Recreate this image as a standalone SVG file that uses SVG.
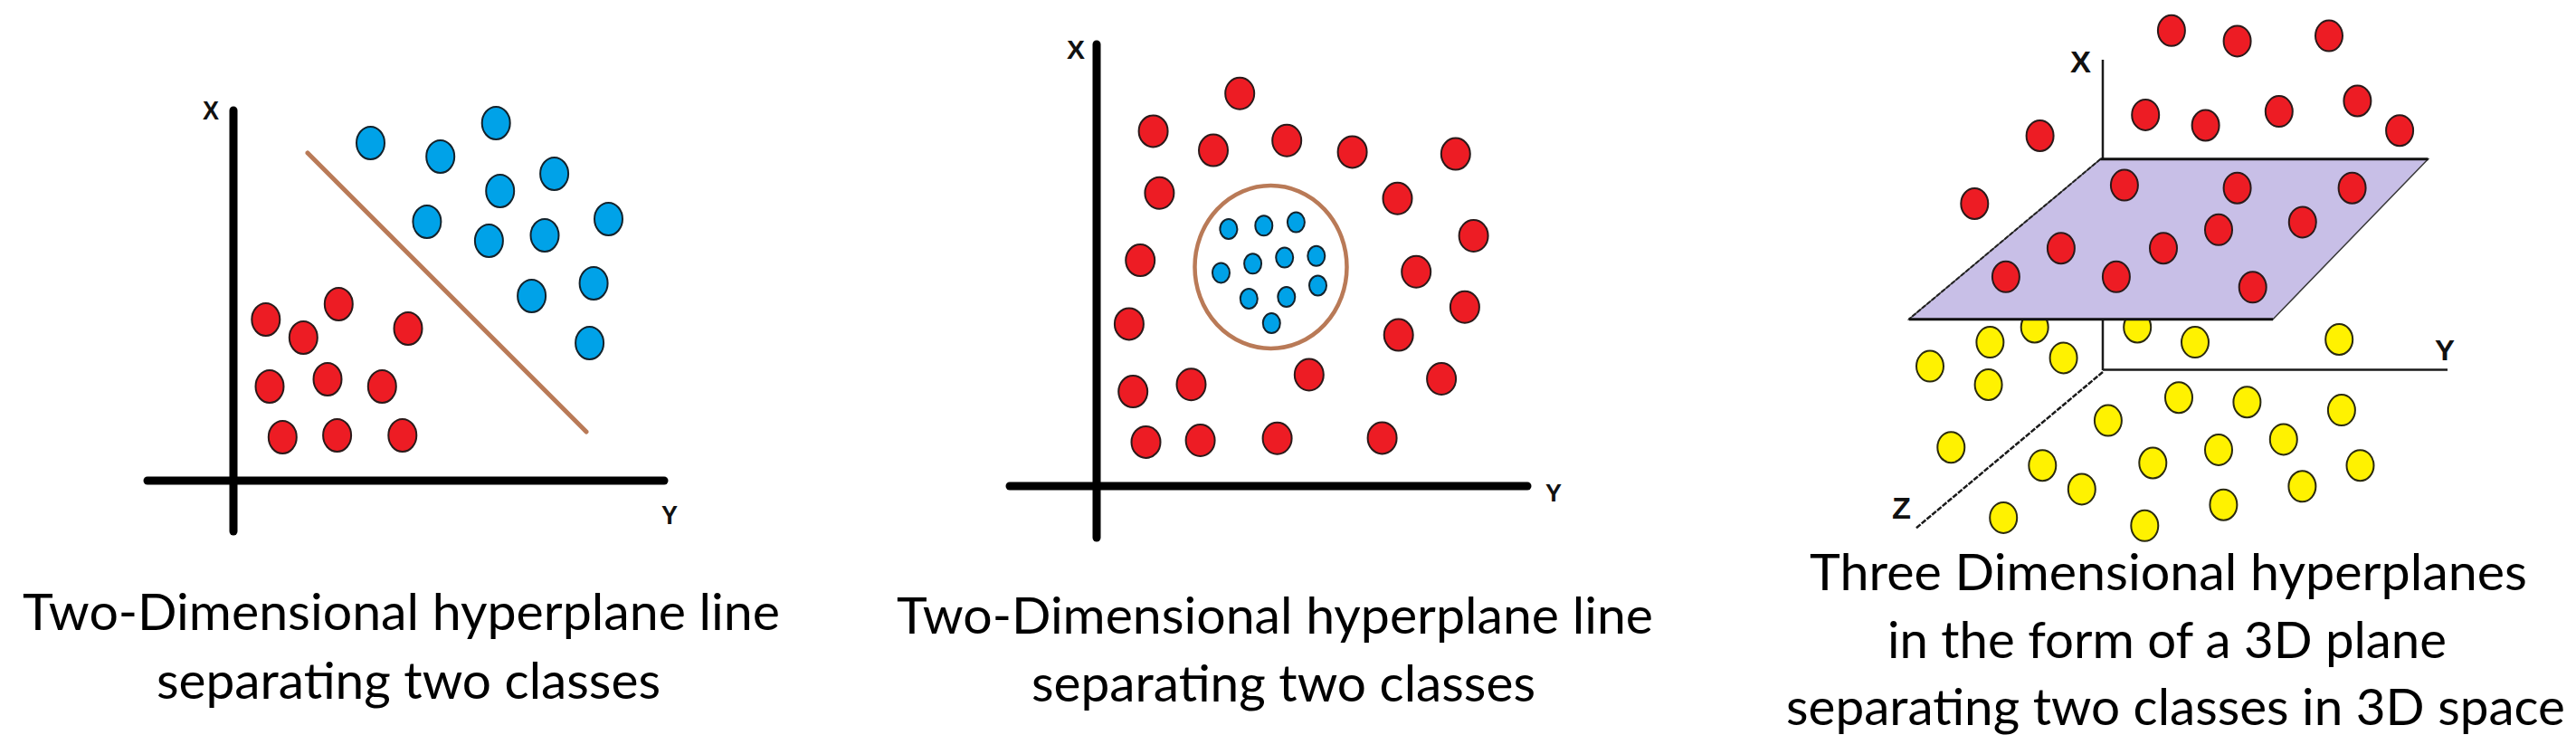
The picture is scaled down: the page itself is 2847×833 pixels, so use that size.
<svg xmlns="http://www.w3.org/2000/svg" width="2847" height="833" viewBox="0 0 2847 833">
<style>
.bg{fill:#ffffff}
.r{fill:#ed1c24;stroke:#2a1a1a;stroke-width:2}
.b{fill:#00a2e8;stroke:#13222b;stroke-width:2}
.y{fill:#fff200;stroke:#2a2a10;stroke-width:2}
.ax{stroke:#000;stroke-width:9;stroke-linecap:round;fill:none}
.ax3{stroke:#1a1a1a;stroke-width:2.5;fill:none}
.sep{stroke:#b97a57;stroke-width:5;fill:none;stroke-linecap:round}
.lab{font-family:"Liberation Sans",Arial,sans-serif;font-weight:bold;fill:#111}
.cap{font-family:Lato,"Open Sans",sans-serif;font-size:56px;fill:#000}
</style>
<rect class="bg" x="0" y="0" width="2847" height="833"/>

<g id="panel1">
  <g id="p1-axes">
    <line class="ax" x1="258" y1="122" x2="258" y2="587"/>
    <line class="ax" x1="163" y1="531" x2="734" y2="531"/>
    <text class="lab" x="224" y="132" font-size="29" textLength="18" lengthAdjust="spacingAndGlyphs">X</text>
    <text class="lab" x="731" y="579" font-size="29" textLength="18" lengthAdjust="spacingAndGlyphs">Y</text>
  </g>
  <line id="p1-separator" class="sep" x1="340" y1="169" x2="648" y2="477"/>
  <g id="p1-blue">
    <ellipse class="b" cx="409.5" cy="158" rx="15.5" ry="18"/>
    <ellipse class="b" cx="486.7" cy="173" rx="15.5" ry="18"/>
    <ellipse class="b" cx="548.2" cy="136" rx="15.5" ry="18"/>
    <ellipse class="b" cx="612.6" cy="192" rx="15.5" ry="18"/>
    <ellipse class="b" cx="552.7" cy="211" rx="15.5" ry="18"/>
    <ellipse class="b" cx="471.9" cy="245" rx="15.5" ry="18"/>
    <ellipse class="b" cx="540.4" cy="266" rx="15.5" ry="18"/>
    <ellipse class="b" cx="602" cy="260" rx="15.5" ry="18"/>
    <ellipse class="b" cx="672.5" cy="242" rx="15.5" ry="18"/>
    <ellipse class="b" cx="587.6" cy="327" rx="15.5" ry="18"/>
    <ellipse class="b" cx="656.1" cy="313" rx="15.5" ry="18"/>
    <ellipse class="b" cx="651.6" cy="379" rx="15.5" ry="18"/>
  </g>
  <g id="p1-red">
    <ellipse class="r" cx="293.8" cy="353" rx="15.5" ry="18"/>
    <ellipse class="r" cx="374.3" cy="336" rx="15.5" ry="18"/>
    <ellipse class="r" cx="335.3" cy="373" rx="15.5" ry="18"/>
    <ellipse class="r" cx="451" cy="363" rx="15.5" ry="18"/>
    <ellipse class="r" cx="298" cy="427" rx="15.5" ry="18"/>
    <ellipse class="r" cx="362" cy="419" rx="15.5" ry="18"/>
    <ellipse class="r" cx="422.3" cy="427" rx="15.5" ry="18"/>
    <ellipse class="r" cx="312.3" cy="483" rx="15.5" ry="18"/>
    <ellipse class="r" cx="372.6" cy="481" rx="15.5" ry="18"/>
    <ellipse class="r" cx="444.8" cy="481" rx="15.5" ry="18"/>
  </g>
  <g id="p1-caption">
    <text class="cap" x="25" y="696" textLength="837" lengthAdjust="spacingAndGlyphs">Two-Dimensional hyperplane line</text>
    <text class="cap" x="173" y="772" textLength="557" lengthAdjust="spacingAndGlyphs">separating two classes</text>
  </g>
</g>

<g id="panel2">
  <g id="p2-axes">
    <line class="ax" x1="1212" y1="49" x2="1212" y2="594"/>
    <line class="ax" x1="1116" y1="537" x2="1688" y2="537"/>
    <text class="lab" x="1179" y="64.6" font-size="30" textLength="20" lengthAdjust="spacingAndGlyphs">X</text>
    <text class="lab" x="1708" y="554" font-size="28" textLength="18" lengthAdjust="spacingAndGlyphs">Y</text>
  </g>
  <ellipse id="p2-separator" class="sep" cx="1404.5" cy="295" rx="84" ry="90" style="stroke-width:4.5"/>
  <g id="p2-red">
    <ellipse class="r" cx="1370.2" cy="103.2" rx="16" ry="17.5"/>
    <ellipse class="r" cx="1274.6" cy="144.9" rx="16" ry="17.5"/>
    <ellipse class="r" cx="1341" cy="166.1" rx="16" ry="17.5"/>
    <ellipse class="r" cx="1422.2" cy="155.3" rx="16" ry="17.5"/>
    <ellipse class="r" cx="1494.6" cy="167.9" rx="16" ry="17.5"/>
    <ellipse class="r" cx="1608.8" cy="170.1" rx="16" ry="17.5"/>
    <ellipse class="r" cx="1281.4" cy="213.3" rx="16" ry="17.5"/>
    <ellipse class="r" cx="1544.5" cy="219.2" rx="16" ry="17.5"/>
    <ellipse class="r" cx="1628.6" cy="260.5" rx="16" ry="17.5"/>
    <ellipse class="r" cx="1260.2" cy="287.6" rx="16" ry="17.5"/>
    <ellipse class="r" cx="1565.2" cy="300.3" rx="16" ry="17.5"/>
    <ellipse class="r" cx="1618.9" cy="339.3" rx="16" ry="17.5"/>
    <ellipse class="r" cx="1247.9" cy="357.9" rx="16" ry="17.5"/>
    <ellipse class="r" cx="1545.7" cy="370.1" rx="16" ry="17.5"/>
    <ellipse class="r" cx="1446.8" cy="414" rx="16" ry="17.5"/>
    <ellipse class="r" cx="1593.1" cy="418.5" rx="16" ry="17.5"/>
    <ellipse class="r" cx="1252.2" cy="432.6" rx="16" ry="17.5"/>
    <ellipse class="r" cx="1316.5" cy="424.8" rx="16" ry="17.5"/>
    <ellipse class="r" cx="1266.5" cy="488.4" rx="16" ry="17.5"/>
    <ellipse class="r" cx="1326.6" cy="486.5" rx="16" ry="17.5"/>
    <ellipse class="r" cx="1411.6" cy="484.3" rx="16" ry="17.5"/>
    <ellipse class="r" cx="1527.6" cy="483.9" rx="16" ry="17.5"/>
  </g>
  <g id="p2-blue">
    <ellipse class="b" cx="1357.9" cy="253" rx="9.5" ry="11"/>
    <ellipse class="b" cx="1396.8" cy="249.3" rx="9.5" ry="11"/>
    <ellipse class="b" cx="1432.4" cy="245.6" rx="9.5" ry="11"/>
    <ellipse class="b" cx="1384.6" cy="291.3" rx="9.5" ry="11"/>
    <ellipse class="b" cx="1419.7" cy="284.6" rx="9.5" ry="11"/>
    <ellipse class="b" cx="1454.8" cy="282.8" rx="9.5" ry="11"/>
    <ellipse class="b" cx="1349.5" cy="301.4" rx="9.5" ry="11"/>
    <ellipse class="b" cx="1456.5" cy="315.5" rx="9.5" ry="11"/>
    <ellipse class="b" cx="1380.3" cy="330" rx="9.5" ry="11"/>
    <ellipse class="b" cx="1421.8" cy="328.1" rx="9.5" ry="11"/>
    <ellipse class="b" cx="1405.3" cy="357.1" rx="9.5" ry="11"/>
  </g>
  <g id="p2-caption">
    <text class="cap" x="991" y="700" textLength="836" lengthAdjust="spacingAndGlyphs">Two-Dimensional hyperplane line</text>
    <text class="cap" x="1140" y="775" textLength="557" lengthAdjust="spacingAndGlyphs">separating two classes</text>
  </g>
</g>

<g id="panel3">
  <g id="p3-axes">
    <line class="ax3" x1="2324" y1="66" x2="2324" y2="409"/>
    <line class="ax3" x1="2324" y1="408.5" x2="2705" y2="408.5"/>
    <line class="ax3" x1="2324" y1="411" x2="2117" y2="584" stroke-dasharray="6 1.5"/>
    <text class="lab" x="2288" y="80" font-size="33" textLength="23" lengthAdjust="spacingAndGlyphs">X</text>
    <text class="lab" x="2691" y="398" font-size="32" textLength="22" lengthAdjust="spacingAndGlyphs">Y</text>
    <text class="lab" x="2091" y="573" font-size="34" textLength="21" lengthAdjust="spacingAndGlyphs">Z</text>
  </g>
  <g id="p3-yellow-behind">
    <ellipse class="y" cx="2248.7" cy="361.5" rx="15" ry="17"/>
    <ellipse class="y" cx="2362.2" cy="361.5" rx="15" ry="17"/>
  </g>
  <g id="p3-plane">
    <polygon points="2321.4,175.8 2683.5,175.8 2512.1,352.7 2109.7,352.7" fill="#c8bfe7" stroke="#3a3a3a" stroke-width="1.5"/>
    <line x1="2321.4" y1="175.8" x2="2109.7" y2="352.7" stroke="#222" stroke-width="2" stroke-dasharray="5 2"/>
    <line x1="2321.4" y1="175.8" x2="2683.5" y2="175.8" stroke="#111" stroke-width="3"/>
    <line x1="2109.7" y1="352.7" x2="2512.1" y2="352.7" stroke="#111" stroke-width="3"/>
  </g>
  <g id="p3-red">
    <ellipse class="r" cx="2399.9" cy="33.8" rx="15" ry="17"/>
    <ellipse class="r" cx="2472.6" cy="45.4" rx="15" ry="17"/>
    <ellipse class="r" cx="2574" cy="39.6" rx="15" ry="17"/>
    <ellipse class="r" cx="2371.2" cy="126.9" rx="15" ry="17"/>
    <ellipse class="r" cx="2437.6" cy="138.5" rx="15" ry="17"/>
    <ellipse class="r" cx="2518.8" cy="123.1" rx="15" ry="17"/>
    <ellipse class="r" cx="2605.4" cy="111.5" rx="15" ry="17"/>
    <ellipse class="r" cx="2652.1" cy="144.2" rx="15" ry="17"/>
    <ellipse class="r" cx="2254.6" cy="150" rx="15" ry="17"/>
    <ellipse class="r" cx="2182.3" cy="225" rx="15" ry="17"/>
    <ellipse class="r" cx="2347.9" cy="204.6" rx="15" ry="17"/>
    <ellipse class="r" cx="2472.6" cy="207.7" rx="15" ry="17"/>
    <ellipse class="r" cx="2599.6" cy="207.7" rx="15" ry="17"/>
    <ellipse class="r" cx="2452" cy="253.8" rx="15" ry="17"/>
    <ellipse class="r" cx="2544.8" cy="245.4" rx="15" ry="17"/>
    <ellipse class="r" cx="2277.9" cy="274.2" rx="15" ry="17"/>
    <ellipse class="r" cx="2391" cy="274.2" rx="15" ry="17"/>
    <ellipse class="r" cx="2216.9" cy="305.8" rx="15" ry="17"/>
    <ellipse class="r" cx="2338.9" cy="305.8" rx="15" ry="17"/>
    <ellipse class="r" cx="2489.7" cy="317.3" rx="15" ry="17"/>
  </g>
  <g id="p3-yellow">
    <ellipse class="y" cx="2199.4" cy="378.1" rx="15" ry="17"/>
    <ellipse class="y" cx="2426" cy="378.1" rx="15" ry="17"/>
    <ellipse class="y" cx="2585.2" cy="375" rx="15" ry="17"/>
    <ellipse class="y" cx="2133" cy="404.6" rx="15" ry="17"/>
    <ellipse class="y" cx="2280.6" cy="395.4" rx="15" ry="17"/>
    <ellipse class="y" cx="2197.6" cy="425" rx="15" ry="17"/>
    <ellipse class="y" cx="2408" cy="439.2" rx="15" ry="17"/>
    <ellipse class="y" cx="2483.4" cy="444.2" rx="15" ry="17"/>
    <ellipse class="y" cx="2587.9" cy="453.1" rx="15" ry="17"/>
    <ellipse class="y" cx="2329.9" cy="464.6" rx="15" ry="17"/>
    <ellipse class="y" cx="2523.8" cy="485.4" rx="15" ry="17"/>
    <ellipse class="y" cx="2156.3" cy="494.2" rx="15" ry="17"/>
    <ellipse class="y" cx="2452" cy="496.9" rx="15" ry="17"/>
    <ellipse class="y" cx="2257.3" cy="514.2" rx="15" ry="17"/>
    <ellipse class="y" cx="2379.3" cy="511.5" rx="15" ry="17"/>
    <ellipse class="y" cx="2608.5" cy="514.2" rx="15" ry="17"/>
    <ellipse class="y" cx="2300.8" cy="540.4" rx="15" ry="17"/>
    <ellipse class="y" cx="2544.4" cy="537.3" rx="15" ry="17"/>
    <ellipse class="y" cx="2457.4" cy="557.7" rx="15" ry="17"/>
    <ellipse class="y" cx="2214.2" cy="571.9" rx="15" ry="17"/>
    <ellipse class="y" cx="2370.3" cy="580.8" rx="15" ry="17"/>
  </g>
  <g id="p3-caption">
    <text class="cap" x="2000" y="652" textLength="793" lengthAdjust="spacingAndGlyphs">Three Dimensional hyperplanes</text>
    <text class="cap" x="2086" y="727" textLength="618" lengthAdjust="spacingAndGlyphs">in the form of a 3D plane</text>
    <text class="cap" x="1974" y="801" textLength="861" lengthAdjust="spacingAndGlyphs">separating two classes in 3D space</text>
  </g>
</g>
</svg>
